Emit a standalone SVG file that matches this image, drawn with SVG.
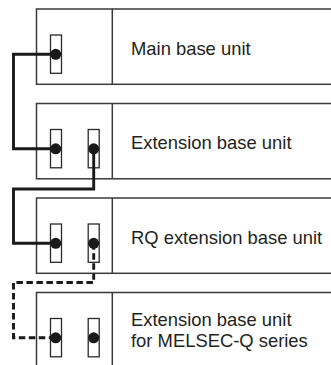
<svg xmlns="http://www.w3.org/2000/svg" width="331" height="365" viewBox="0 0 331 365">
<style>
.box{fill:#fff;stroke:#3a3a3a;stroke-width:1.5}
.div{stroke:#3a3a3a;stroke-width:1.5}
.port{fill:#fff;stroke:#2a2a2a;stroke-width:1.3}
.dot{fill:#1a1a1a}
.lbl{font-family:"Liberation Sans",Arial,sans-serif;font-size:18.4px;fill:#231f20}
.conn{fill:none;stroke:#1a1a1a;stroke-width:2.9;stroke-linejoin:miter}
.dash{stroke-dasharray:6.5 3.5}
</style>
<rect width="331" height="365" fill="#fff"/>
<g id="main-base">
<rect class="box" x="36.5" y="9" width="310" height="75.3"/>
<line class="div" x1="112.3" y1="9" x2="112.3" y2="84.3"/>
<rect class="port" x="50.5" y="35" width="11" height="38.3"/>
<text class="lbl" x="131" y="54.8">Main base unit</text>
</g>
<g id="ext-base">
<rect class="box" x="36.5" y="103.5" width="310" height="75.3"/>
<line class="div" x1="112.3" y1="103.5" x2="112.3" y2="178.8"/>
<rect class="port" x="50.5" y="129.5" width="11" height="38.3"/>
<rect class="port" x="88.2" y="129.5" width="11" height="38.3"/>
<text class="lbl" x="131" y="149.3">Extension base unit</text>
</g>
<g id="rq-ext-base">
<rect class="box" x="36.5" y="198" width="310" height="75.3"/>
<line class="div" x1="112.3" y1="198" x2="112.3" y2="273.3"/>
<rect class="port" x="50.5" y="224" width="11" height="38.3"/>
<rect class="port" x="88.2" y="224" width="11" height="38.3"/>
<text class="lbl" x="131" y="243.8">RQ extension base unit</text>
</g>
<g id="q-ext-base">
<rect class="box" x="36.5" y="292.5" width="310" height="100"/>
<line class="div" x1="112.3" y1="292.5" x2="112.3" y2="392.5"/>
<rect class="port" x="50.5" y="318.5" width="11" height="38.3"/>
<rect class="port" x="88.2" y="318.5" width="11" height="38.3"/>
<text class="lbl" x="131" y="325.5">Extension base unit</text>
<text class="lbl" x="131" y="347">for MELSEC-Q series</text>
</g>
<g id="connectors">
<path class="conn" d="M55.7 54.3 H13.5 V148.8 H55.7"/>
<path class="conn" d="M93.7 148.8 V189 H13.5 V243.3 H55.7"/>
<path class="conn dash" d="M93.7 243.3 V282.5 H13.5 V337.8 H55.7"/>
<circle class="dot" cx="55.7" cy="54.3" r="5.5"/>
<circle class="dot" cx="55.7" cy="148.8" r="5.5"/>
<circle class="dot" cx="93.7" cy="148.8" r="5.5"/>
<circle class="dot" cx="55.7" cy="243.3" r="5.5"/>
<circle class="dot" cx="93.7" cy="243.3" r="5.5"/>
<circle class="dot" cx="55.7" cy="337.8" r="5.5"/>
<circle class="dot" cx="93.7" cy="337.8" r="5.5"/>
</g>
</svg>
